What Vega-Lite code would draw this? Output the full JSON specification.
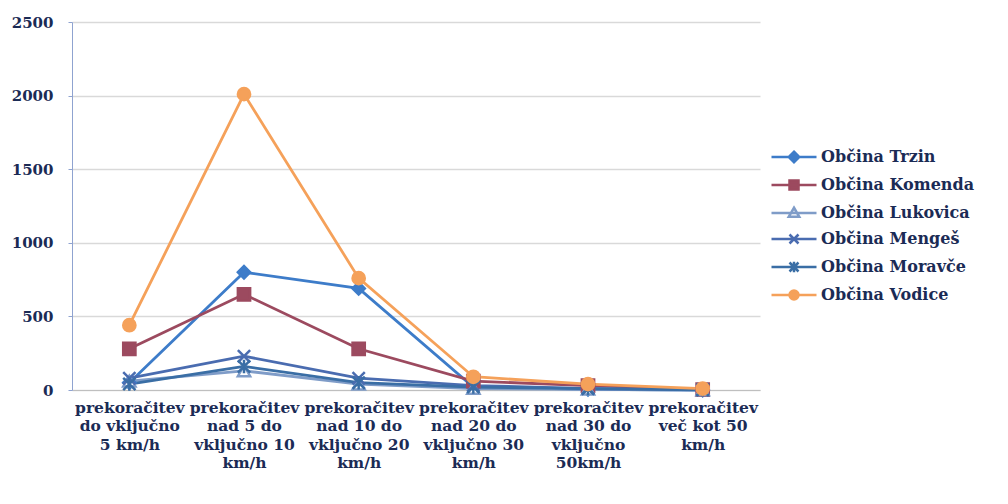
{
  "$schema": "https://vega.github.io/schema/vega-lite/v6.json",
  "autosize": "none",
  "width": 688,
  "height": 368,
  "padding": {"left": 72, "top": 22, "right": 248, "bottom": 114},
  "background": "white",
  "view": {"stroke": null},
  "data": {
    "values": [
      {"cat": "do 5", "obcina": "Občina Trzin", "n": 50},
      {"cat": "5-10", "obcina": "Občina Trzin", "n": 800},
      {"cat": "10-20", "obcina": "Občina Trzin", "n": 690},
      {"cat": "20-30", "obcina": "Občina Trzin", "n": 20},
      {"cat": "30-50", "obcina": "Občina Trzin", "n": 5},
      {"cat": "nad 50", "obcina": "Občina Trzin", "n": 0},
      {"cat": "do 5", "obcina": "Občina Komenda", "n": 280},
      {"cat": "5-10", "obcina": "Občina Komenda", "n": 650},
      {"cat": "10-20", "obcina": "Občina Komenda", "n": 280},
      {"cat": "20-30", "obcina": "Občina Komenda", "n": 60},
      {"cat": "30-50", "obcina": "Občina Komenda", "n": 30},
      {"cat": "nad 50", "obcina": "Občina Komenda", "n": 2},
      {"cat": "do 5", "obcina": "Občina Lukovica", "n": 60},
      {"cat": "5-10", "obcina": "Občina Lukovica", "n": 130},
      {"cat": "10-20", "obcina": "Občina Lukovica", "n": 40},
      {"cat": "20-30", "obcina": "Občina Lukovica", "n": 10},
      {"cat": "30-50", "obcina": "Občina Lukovica", "n": 5},
      {"cat": "nad 50", "obcina": "Občina Lukovica", "n": 0},
      {"cat": "do 5", "obcina": "Občina Mengeš", "n": 80},
      {"cat": "5-10", "obcina": "Občina Mengeš", "n": 230},
      {"cat": "10-20", "obcina": "Občina Mengeš", "n": 80},
      {"cat": "20-30", "obcina": "Občina Mengeš", "n": 30},
      {"cat": "30-50", "obcina": "Občina Mengeš", "n": 10},
      {"cat": "nad 50", "obcina": "Občina Mengeš", "n": 2},
      {"cat": "do 5", "obcina": "Občina Moravče", "n": 40},
      {"cat": "5-10", "obcina": "Občina Moravče", "n": 160},
      {"cat": "10-20", "obcina": "Občina Moravče", "n": 50},
      {"cat": "20-30", "obcina": "Občina Moravče", "n": 20},
      {"cat": "30-50", "obcina": "Občina Moravče", "n": 10},
      {"cat": "nad 50", "obcina": "Občina Moravče", "n": 1},
      {"cat": "do 5", "obcina": "Občina Vodice", "n": 440},
      {"cat": "5-10", "obcina": "Občina Vodice", "n": 2010},
      {"cat": "10-20", "obcina": "Občina Vodice", "n": 760},
      {"cat": "20-30", "obcina": "Občina Vodice", "n": 90},
      {"cat": "30-50", "obcina": "Občina Vodice", "n": 40},
      {"cat": "nad 50", "obcina": "Občina Vodice", "n": 10}
    ]
  },
  "encoding": {
    "x": {
      "field": "cat",
      "type": "nominal",
      "sort": null,
      "scale": {"type": "point", "padding": 0.5},
      "axis": {
        "title": null,
        "labelAngle": 0,
        "labelFont": "DejaVu Serif",
        "labelFontWeight": "bold",
        "labelFontSize": 15.5,
        "labelColor": "#1b2b55",
        "labelLineHeight": 18.5,
        "labelPadding": 10,
        "labelBaseline": "top",
        "labelOverlap": false,
        "labelBound": false,
        "labelLimit": 0,
        "ticks": false,
        "domainColor": "#bfbfbf",
        "labelExpr": "{'do 5': ['prekoračitev','do vključno','5 km/h'], '5-10': ['prekoračitev','nad 5 do','vključno 10','km/h'], '10-20': ['prekoračitev','nad  10 do','vključno 20','km/h'], '20-30': ['prekoračitev','nad  20 do','vključno 30','km/h'], '30-50': ['prekoračitev','nad  30  do','vključno','50km/h'], 'nad 50': ['prekoračitev','več kot 50','km/h']}[datum.value]"
      }
    },
    "y": {
      "field": "n",
      "type": "quantitative",
      "scale": {"domain": [0, 2500], "nice": false},
      "axis": {
        "title": null,
        "values": [0, 500, 1000, 1500, 2000, 2500],
        "format": "d",
        "labelFont": "DejaVu Serif",
        "labelFontWeight": "bold",
        "labelFontSize": 15,
        "labelColor": "#1b2b55",
        "labelPadding": 15,
        "tickSize": 4,
        "tickColor": "#8fa3d0",
        "domainColor": "#8fa3d0",
        "gridColor": "#d9d9d9",
        "gridWidth": 1.5
      }
    },
    "color": {
      "field": "obcina",
      "type": "nominal",
      "sort": null,
      "scale": {
        "domain": ["Občina Trzin", "Občina Komenda", "Občina Lukovica", "Občina Mengeš", "Občina Moravče", "Občina Vodice"],
        "range": ["#3d7cc9", "#9c4a5f", "#7f9cc8", "#4a6cb0", "#3a6ea5", "#f5a15a"]
      },
      "legend": {
        "title": null,
        "orient": "none",
        "legendX": 713,
        "legendY": 126,
        "padding": 0,
        "labelFont": "DejaVu Serif",
        "labelFontWeight": "bold",
        "labelFontSize": 16,
        "labelColor": "#1b2b55",
        "labelLimit": 0,
        "rowPadding": 7,
        "symbolSize": 225,
        "symbolStrokeWidth": 2.5,
        "labelOffset": 18,
        "encoding": {
          "symbols": {
            "shape": {"value": {"expr": "{'Občina Trzin': 'M-3,0H3M0,-0.7L0.7,0L0,0.7L-0.7,0Z', 'Občina Komenda': 'M-3,0H3M-0.6,-0.6H0.6V0.6H-0.6Z', 'Občina Lukovica': 'M-3,0H3M0,-0.7L0.7,0.5H-0.7Z', 'Občina Mengeš': 'M-3,0H3M-0.6,-0.6L0.6,0.6M-0.6,0.6L0.6,-0.6', 'Občina Moravče': 'M-3,0H3M-0.6,-0.6L0.6,0.6M-0.6,0.6L0.6,-0.6M0,-0.7V0.7', 'Občina Vodice': 'M-3,0H3M0.6,0A0.6,0.6,0,1,1,-0.6,0A0.6,0.6,0,1,1,0.6,0Z'}[datum.value]"}},
            "stroke": {"value": {"expr": "scale('color', datum.value)"}},
            "fill": {"value": {"expr": "datum.value === 'Občina Lukovica' ? '#ffffff' : scale('color', datum.value)"}},
            "strokeWidth": {"value": 2.5}
          }
        }
      }
    }
  },
  "layer": [
    {
      "mark": {"type": "line", "strokeWidth": 2.8},
      "encoding": {"detail": {"field": "obcina"}}
    },
    {
      "mark": {"type": "point", "filled": false, "size": 150, "opacity": 1, "strokeWidth": 2.5},
      "encoding": {
        "fill": {
          "condition": [
            {"test": "datum.obcina === 'Občina Trzin'", "value": "#3d7cc9"},
            {"test": "datum.obcina === 'Občina Komenda'", "value": "#9c4a5f"},
            {"test": "datum.obcina === 'Občina Lukovica'", "value": "#ffffff"},
            {"test": "datum.obcina === 'Občina Vodice'", "value": "#f5a15a"}
          ],
          "value": "transparent"
        },
        "shape": {
          "condition": [
            {"test": "datum.obcina === 'Občina Trzin'", "value": "diamond"},
            {"test": "datum.obcina === 'Občina Komenda'", "value": "square"},
            {"test": "datum.obcina === 'Občina Lukovica'", "value": "triangle-up"},
            {"test": "datum.obcina === 'Občina Mengeš'", "value": "M-1,-1L1,1M-1,1L1,-1"},
            {"test": "datum.obcina === 'Občina Moravče'", "value": "M-1,-1L1,1M-1,1L1,-1M0,-1.1V1.1"}
          ],
          "value": "circle"
        }
      }
    }
  ]
}
